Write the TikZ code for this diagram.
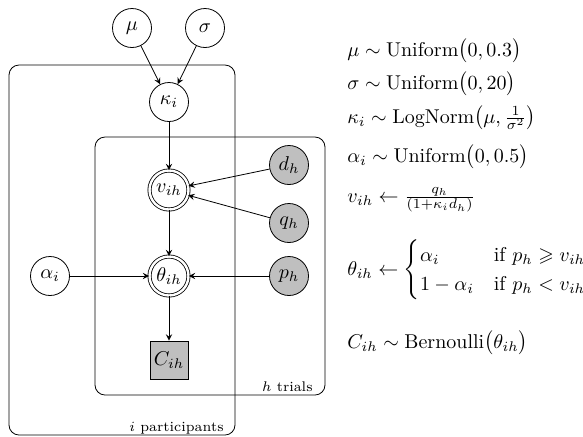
\documentclass[tikz,border=0pt]{standalone}
\usepackage{amsmath}
\usepackage{amssymb}
\usetikzlibrary{arrows}
\usetikzlibrary{positioning}
\tikzstyle{arrow} = [->,>=stealth]
\tikzstyle{latent} = [circle,draw,minimum size=19.5pt,inner sep=1pt]
\tikzstyle{observed} = [latent,fill=gray!50]
\tikzstyle{deterministic} = [latent,double,double distance=1.2pt]
\tikzstyle{plate} = [draw,rounded corners=5pt]
\tikzstyle{platelabel} = [anchor=base east,inner sep=0pt,font=\scriptsize]
\tikzstyle{eq} = [anchor=base west,inner sep=0pt]
\begin{document}
\begin{tikzpicture}[x=0.5pt,y=-0.5pt,on grid]
\useasboundingbox (0,0) rectangle (583,436);
\draw[plate] (9,65) rectangle (235,435);
\draw[plate] (95,137) rectangle (325,395);
\node[platelabel] (trials) at (313,391) {$h$ trials};
\node[platelabel] (participants) at (224,431) {$i$ participants};
\node[deterministic] (theta) at (169,276) {$\theta_{ih}$};
\node[deterministic, above=43pt of theta] (v) {$v_{ih}$};
\node[latent, above=44pt of v] (kappa) {$\kappa_i$};
\node[latent, above left=37pt and 18.5pt of kappa] (mu) {$\mu$};
\node[latent, above right=37pt and 18pt of kappa] (sigma) {$\sigma$};
\node[latent, left=59.5pt of theta] (alpha) {$\alpha_i$};
\node[observed, right=60pt of theta] (p) {$p_h$};
\node[observed, above=26.5pt of p] (q) {$q_h$};
\node[observed, above=29pt of q] (d) {$d_h$};
\node[observed, rectangle, minimum size=19pt, below=42pt of theta] (C) {$C_{ih}$};
\draw[arrow] (mu) -- (kappa);
\draw[arrow] (sigma) -- (kappa);
\draw[arrow] (kappa) -- (v);
\draw[arrow] (d) -- (v);
\draw[arrow] (q) -- (v);
\draw[arrow] (v) -- (theta);
\draw[arrow] (alpha) -- (theta);
\draw[arrow] (p) -- (theta);
\draw[arrow] (theta) -- (C);
\node[eq] (eqmu) at (347,56) {$\mu \sim \text{Uniform}\bigl(0,0.3\bigr)$};
\node[eq] (eqsigma) at (347,89) {$\sigma \sim \text{Uniform}\bigl(0,20\bigr)$};
\node[eq] (eqkappa) at (347,123) {$\kappa_i \sim \text{LogNorm}\bigl(\mu,\frac{1}{\sigma^2}\bigr)$};
\node[eq] (eqalpha) at (347,162) {$\alpha_i \sim \text{Uniform}\bigl(0,0.5\bigr)$};
\node[eq] (eqv) at (347,202) {$v_{ih} \leftarrow \frac{q_h}{(1+\kappa_i d_h)}$};
\node[eq] (eqtheta) at (347,275) {$\theta_{ih} \leftarrow \begin{cases} \alpha_i & \text{if } p_h \geqslant v_{ih}\\ 1-\alpha_i & \text{if } p_h < v_{ih}\end{cases}$};
\node[eq] (eqC) at (347,348) {$C_{ih} \sim \text{Bernoulli}\bigl(\theta_{ih}\bigr)$};
\end{tikzpicture}
\end{document}
